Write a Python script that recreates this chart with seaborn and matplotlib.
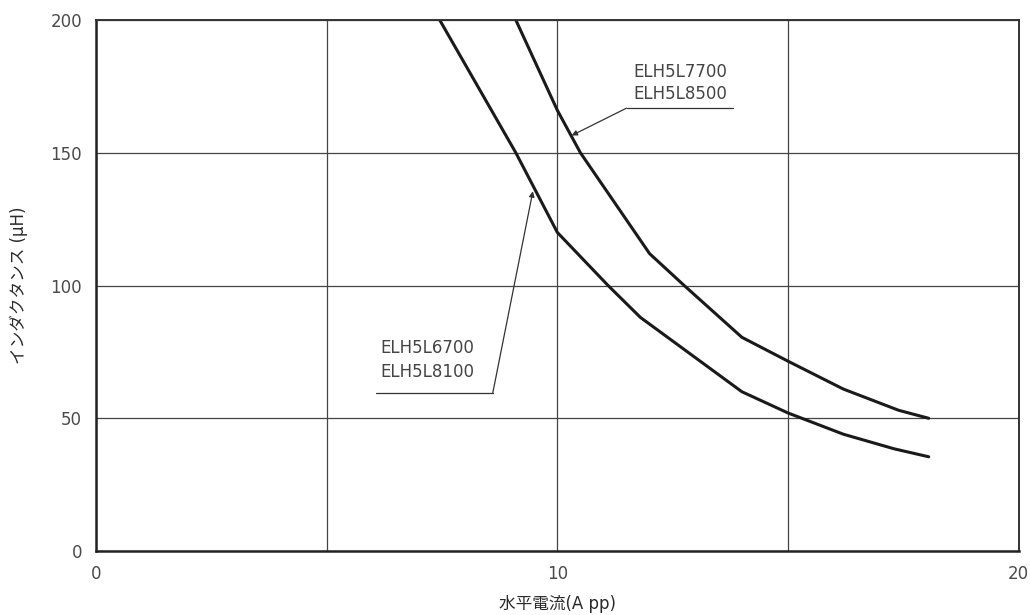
import pandas as pd
import seaborn as sns
import matplotlib.pyplot as plt

# ============ Data ============
lower_x = [7.45, 9.1, 10.0, 11.1, 11.8, 14.0, 15.0, 16.2, 17.3, 18.05]
lower_y = [200, 150, 120, 100, 88, 60, 52, 44, 38.5, 35.5]

upper_x = [9.1, 10.0, 10.5, 12.0, 12.75, 14.0, 15.0, 16.2, 17.4, 18.05]
upper_y = [200, 166, 150, 112, 100, 80.5, 71.5, 61, 53, 50]

lower_label = "ELH5L6700\nELH5L8100"
upper_label = "ELH5L7700\nELH5L8500"

x_ticks = [0, 5, 10, 15, 20]
x_ticklabels = ["0", "", "10", "", "20"]
y_ticks = [0, 50, 100, 150, 200]

df = pd.concat([
    pd.DataFrame({"x": lower_x, "y": lower_y, "series": "lower"}),
    pd.DataFrame({"x": upper_x, "y": upper_y, "series": "upper"}),
])

# ============ Style ============
sns.set_style("white")
plt.rcParams['font.family'] = ['DejaVu Sans', 'Noto Sans CJK JP']
plt.rcParams['font.size'] = 12

fig = plt.figure(figsize=(10.3, 6.15), dpi=100)
ax = fig.add_axes([0.0932, 0.104, 0.8958, 0.8635])

# ============ Curves ============
sns.lineplot(data=df, x="x", y="y", units="series", estimator=None,
             color="#1a1a1a", linewidth=2.2, sort=False, ax=ax)

# ============ Axes ============
ax.set_xlim(0, 20)
ax.set_ylim(0, 200)
ax.set_xticks(x_ticks)
ax.set_xticklabels(x_ticklabels)
ax.set_yticks(y_ticks)
ax.tick_params(length=0, colors="#4a4a4a", labelsize=12, pad=10)
ax.grid(True, color="#444444", linewidth=0.9)
for side in ["left", "bottom"]:
    ax.spines[side].set_linewidth(1.8)
    ax.spines[side].set_color("#222222")
for side in ["top", "right"]:
    ax.spines[side].set_linewidth(1.4)
    ax.spines[side].set_color("#333333")

ax.set_xlabel("水平電流(A pp)", fontsize=12, color="#2a2a2a", labelpad=9)
ax.set_ylabel("インダクタンス (μH)", fontsize=12, color="#2a2a2a", labelpad=16)

# ============ Annotations ============
# upper curve label
ax.text(11.64, 176.3, upper_label, fontsize=12, color="#444444",
        va="center", ha="left", linespacing=1.32)
ax.plot([11.5, 13.8], [166.8, 166.8], color="#333333", linewidth=0.9)
ax.annotate("", xy=(10.31, 156.5), xytext=(11.5, 166.8),
            arrowprops=dict(arrowstyle="-|>", color="#333333", lw=0.9,
                            mutation_scale=8, shrinkA=0, shrinkB=0))

# lower curve label
ax.text(6.17, 72, lower_label, fontsize=12, color="#444444",
        va="center", ha="left", linespacing=1.38)
ax.plot([6.08, 8.6], [59.5, 59.5], color="#333333", linewidth=0.9)
ax.annotate("", xy=(9.47, 135.5), xytext=(8.6, 59.5),
            arrowprops=dict(arrowstyle="-|>", color="#333333", lw=0.9,
                            mutation_scale=8, shrinkA=0, shrinkB=0))

fig.savefig("out.png", dpi=100)
